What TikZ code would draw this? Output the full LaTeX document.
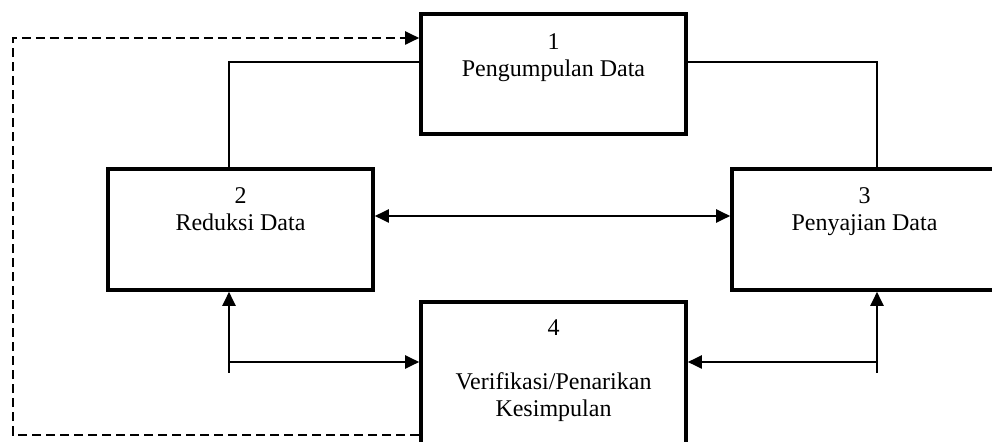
\documentclass[tikz,border=0pt]{standalone}
\usepackage{fontspec}
\setmainfont{Liberation Serif}
\usetikzlibrary{arrows.meta}
\tikzstyle{stage} = [rectangle, minimum width=132.5pt, minimum height=60pt, draw=black, line width=1.8pt, fill=white]
\tikzstyle{caption} = [align=center, anchor=base, inner sep=0pt, font=\fontsize{12}{13.5}\selectfont]
\tikzstyle{plain} = [line width=1pt]
\tikzstyle{link} = [line width=1pt, ->, >={Triangle[length=7pt, width=6.5pt]}]
\tikzstyle{feedback} = [link, dash pattern=on 4.5pt off 2.5pt]

\begin{document}
\begin{tikzpicture}[x=0.5pt, y=-0.5pt]
\useasboundingbox (0,0) rectangle (992,442);
\clip (0,0) rectangle (992,442);

% Nodes
\node (stage1) [stage] at (553.5,74) {};
\node (stage2) [stage, minimum height=60.5pt] at (240.5,229.5) {};
\node (stage3) [stage, minimum height=60.5pt] at (864.5,229.5) {};
\node (stage4) [stage, minimum height=80pt] at (553.5,382) {};
% captions sit on the baseline of their last line
\node (text1) [caption] at ([yshift=-32pt]stage1.north) {1\\Pengumpulan Data};
\node (text2) [caption] at ([yshift=-31.5pt]stage2.north) {2\\Reduksi Data};
\node (text3) [caption] at ([yshift=-31.5pt]stage3.north) {3\\Penyajian Data};
\node (text4) [caption] at ([yshift=-58pt]stage4.north) {4\\ \\Verifikasi/Penarikan\\Kesimpulan};

% Turning points
\coordinate (left) at (229,373);
\coordinate (leftjoin) at (229,362);
\coordinate (right) at (877,373);
\coordinate (rightjoin) at (877,362);
\coordinate (loopbottom) at (13,435);
\coordinate (looptop) at (13,38);

% Arrows
\draw [plain] ([yshift=6pt]stage1.west) -| ([xshift=-5.75pt]stage2.north);
\draw [plain] ([yshift=6pt]stage1.east) -| ([xshift=6.25pt]stage3.north);
\draw [link, <->] ([yshift=6.75pt]stage2.east) -- ([yshift=6.75pt]stage3.west);
\draw [link] (left) -- (left |- stage2.south);
\draw [link] (leftjoin) -- (leftjoin -| stage4.west);
\draw [link] (right) -- (right |- stage3.south);
\draw [link] (rightjoin) -- (rightjoin -| stage4.east);
\draw [feedback] (loopbottom -| stage4.west) -- (loopbottom) -- (looptop) -- (looptop -| stage1.west);

\end{tikzpicture}
\end{document}
